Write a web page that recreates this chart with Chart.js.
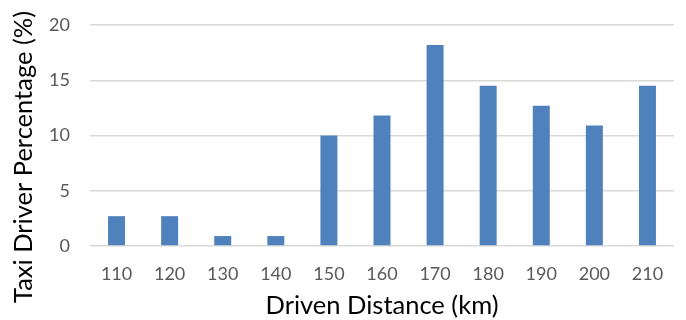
<!DOCTYPE html>
<html>
<head>
<meta charset="utf-8">
<script src="https://cdn.jsdelivr.net/npm/chart.js@4"></script>
<style>
  html, body { margin: 0; padding: 0; background: #fff; }
  #wrap { width: 686px; height: 320px; }
</style>
</head>
<body>
<div id="wrap"><canvas id="c" width="686" height="320"></canvas></div>
<script>
const distances = ['110', '120', '130', '140', '150', '160', '170', '180', '190', '200', '210'];
const percentages = [2.7, 2.7, 0.9, 0.9, 10.0, 11.8, 18.2, 14.5, 12.7, 10.9, 14.5];
const yTicks = [0, 5, 10, 15, 20];
const yTitle = 'Taxi Driver Percentage (%)';
const xTitle = 'Driven Distance (km)';

const fontFamily = "Lato, 'Open Sans', sans-serif";
const titleFont = "25.5px Lato, 'Open Sans', sans-serif";

// The vertical title sits lower than the plot's middle, so it is drawn here
const yTitlePlugin = {
  id: 'yTitle',
  afterDraw(chart) {
    const ctx = chart.ctx;
    ctx.save();
    ctx.translate(24, 157);
    ctx.rotate(-Math.PI / 2);
    ctx.font = titleFont;
    ctx.fillStyle = '#000';
    ctx.textAlign = 'center';
    ctx.textBaseline = 'middle';
    ctx.fillText(yTitle, 0, 0);
    ctx.restore();
  }
};

new Chart(document.getElementById('c'), {
  type: 'bar',
  data: {
    labels: distances,
    datasets: [{
      data: percentages,
      backgroundColor: '#4f81bd',
      borderWidth: 0,
      categoryPercentage: 1.0,
      barPercentage: 0.32
    }]
  },
  plugins: [yTitlePlugin],
  options: {
    responsive: false,
    animation: false,
    devicePixelRatio: 1,
    layout: { padding: { left: 0, right: 12, top: 25, bottom: 0 } },
    plugins: { legend: { display: false }, tooltip: { enabled: false } },
    scales: {
      x: {
        grid: { display: false, drawTicks: false },
        border: { display: false },
        ticks: { color: '#595959', font: { family: fontFamily, size: 18 }, padding: 17 },
        title: {
          display: true,
          text: xTitle,
          color: '#000',
          font: { family: fontFamily, size: 25.5 },
          padding: { top: 0, bottom: -1 }
        },
        afterFit: (scale) => { scale.height = 74; }
      },
      y: {
        min: 0,
        max: 20,
        afterBuildTicks: (axis) => { axis.ticks = yTicks.map(v => ({ value: v })); },
        grid: { color: '#d9d9d9', lineWidth: 1.5, drawTicks: false },
        border: { display: false },
        ticks: { color: '#595959', font: { family: fontFamily, size: 18 }, padding: 20 },
        afterFit: (scale) => {
          scale.width = 90;
          scale.paddingTop = 0;
          scale.paddingBottom = 0;
        }
      }
    }
  }
});
</script>
</body>
</html>
